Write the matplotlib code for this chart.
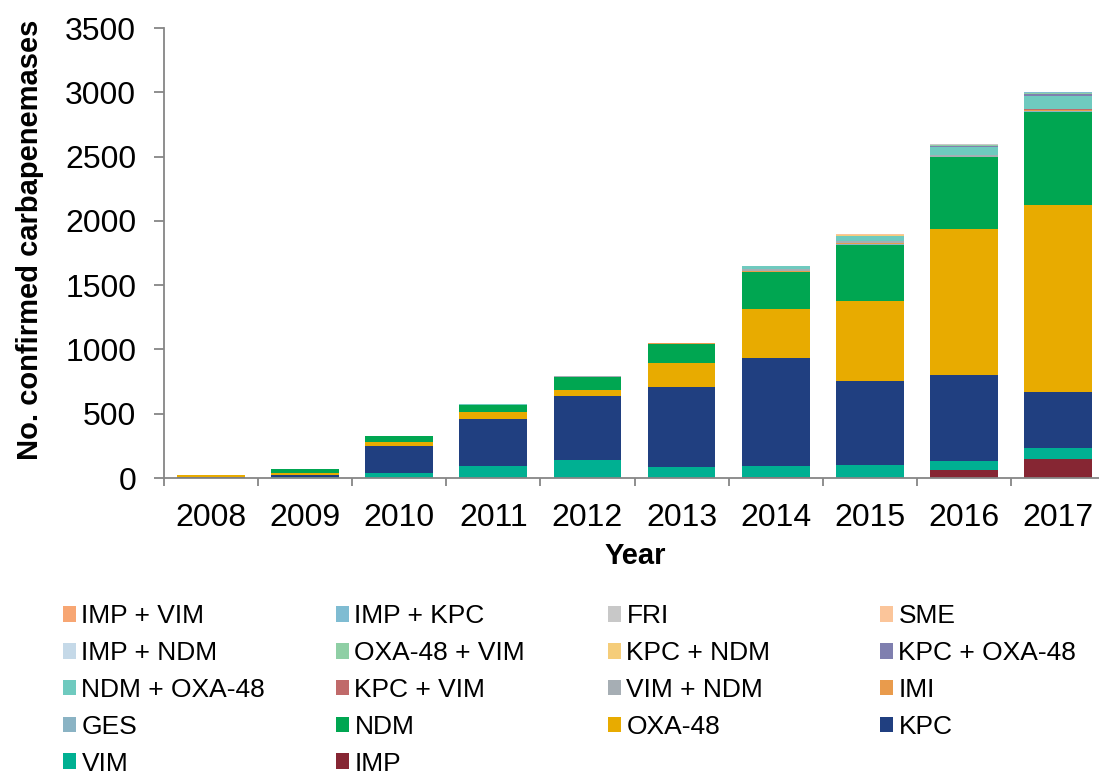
import matplotlib
matplotlib.use("Agg")
import matplotlib.pyplot as plt
from matplotlib.patches import Patch
import numpy as np

plt.rcParams['font.family'] = ['Liberation Sans', 'DejaVu Sans']

years = ['2008', '2009', '2010', '2011', '2012', '2013', '2014', '2015', '2016', '2017']

# stacked bottom -> top
IMP       = [0, 0, 0, 0, 0, 0, 5, 0, 63, 149]
VIM       = [2, 5, 36, 90, 138, 89, 87, 98, 66, 81]
KPC       = [4, 15, 215, 370, 496, 620, 839, 657, 676, 437]
OXA48     = [14, 16, 28, 52, 51, 183, 383, 621, 1130, 1454]
NDM       = [3, 31, 47, 52, 101, 153, 287, 437, 559, 729]
GES       = [0, 0, 0, 0, 0, 0, 3, 10, 3, 3]
IMI       = [0, 0, 0, 2, 2, 2, 3, 5, 3, 6]
VIM_NDM   = [0, 0, 3, 3, 2, 2, 15, 16, 10, 7]
KPC_VIM   = [0, 1, 1, 1, 1, 1, 1, 1, 1, 1]
NDM_OXA48 = [0, 0, 0, 2, 2, 3, 23, 39, 65, 103]
KPC_OXA48 = [0, 0, 0, 0, 0, 0, 0, 1, 6, 18]
KPC_NDM   = [0, 0, 0, 0, 0, 0, 1, 2, 2, 2]
OXA48_VIM = [0, 0, 0, 0, 0, 0, 0, 4, 3, 2]
IMP_NDM   = [0, 0, 0, 0, 0, 0, 0, 1, 3, 1]
SME       = [0, 0, 0, 0, 0, 0, 1, 5, 3, 3]
FRI       = [0, 0, 0, 0, 0, 0, 0, 1, 5, 2]
IMP_KPC   = [0, 0, 0, 0, 0, 0, 0, 0, 1, 1]
IMP_VIM   = [0, 0, 0, 0, 0, 0, 0, 0, 1, 3]

series_names = ['IMP', 'VIM', 'KPC', 'OXA-48', 'NDM', 'GES', 'IMI', 'VIM + NDM', 'KPC + VIM',
                'NDM + OXA-48', 'KPC + OXA-48', 'KPC + NDM', 'OXA-48 + VIM', 'IMP + NDM',
                'SME', 'FRI', 'IMP + KPC', 'IMP + VIM']
series_values = [IMP, VIM, KPC, OXA48, NDM, GES, IMI, VIM_NDM, KPC_VIM, NDM_OXA48, KPC_OXA48,
                 KPC_NDM, OXA48_VIM, IMP_NDM, SME, FRI, IMP_KPC, IMP_VIM]
colors = {
    'IMP': '#862633', 'VIM': '#00b092', 'KPC': '#203f80', 'OXA-48': '#e8ab00', 'NDM': '#00a651',
    'GES': '#8ab3c4', 'IMI': '#e99b4c', 'VIM + NDM': '#a6aeb4', 'KPC + VIM': '#c06a6a',
    'NDM + OXA-48': '#6fcabf', 'KPC + OXA-48': '#7f7faf', 'KPC + NDM': '#f5cd7a',
    'OXA-48 + VIM': '#8fcfa5', 'IMP + NDM': '#c5d9e8', 'SME': '#fbc59a', 'FRI': '#c8c8c8',
    'IMP + KPC': '#7fbcd2', 'IMP + VIM': '#f7a673',
}

# legend layout (row-major as in reference)
legend_order = ['IMP + VIM', 'IMP + KPC', 'FRI', 'SME',
                'IMP + NDM', 'OXA-48 + VIM', 'KPC + NDM', 'KPC + OXA-48',
                'NDM + OXA-48', 'KPC + VIM', 'VIM + NDM', 'IMI',
                'GES', 'NDM', 'OXA-48', 'KPC',
                'VIM', 'IMP']

W, H = 1099, 783
fig = plt.figure(figsize=(W / 100, H / 100), dpi=100)
ax = fig.add_axes([164 / W, 1 - 478 / H, (1105 - 164) / W, (478 - 28) / H])

x = np.arange(len(years))
bottom = np.zeros(len(years))
for name, vals in zip(series_names, series_values):
    v = np.array(vals, dtype=float)
    ax.bar(x, v, width=0.72, bottom=bottom, color=colors[name], label=name, linewidth=0)
    bottom += v

axis_col = '#868686'
ax.set_xlim(-0.5, len(years) - 0.5)
ax.set_ylim(0, 3500)
ax.set_yticks(np.arange(0, 3501, 500))
ax.set_xticks(np.arange(-0.5, len(years), 1.0))
ax.set_xticklabels([])
ax.set_xticks(x, minor=True)
ax.set_xticklabels(years, minor=True)
ax.tick_params(axis='x', which='major', direction='out', length=6, width=1.3, color=axis_col)
ax.tick_params(axis='x', which='minor', length=0, pad=18, labelsize=23)
ax.tick_params(axis='y', direction='out', length=7, width=1.3, color=axis_col, pad=13, labelsize=23)
for s in ['top', 'right']:
    ax.spines[s].set_visible(False)
for s in ['left', 'bottom']:
    ax.spines[s].set_color(axis_col)
    ax.spines[s].set_linewidth(1.3)

ax.set_xlabel('Year', fontsize=21, fontweight='bold')
ax.xaxis.set_label_coords((635 - 164) / 941, (478 - 542) / 450)
ax.set_ylabel('No. confirmed carbapenemases', fontsize=21, fontweight='bold')
ax.yaxis.set_label_coords((44 - 164) / 941, (478 - 240) / 450)

col_x = [63, 336, 608, 880]
for c in range(4):
    names = legend_order[c::4]
    handles = [Patch(facecolor=colors[n], edgecolor='none') for n in names]
    fig.legend(handles, names, loc='upper left', bbox_to_anchor=(col_x[c] / W, 1 - 604 / H),
               frameon=False, fontsize=19, borderpad=0, borderaxespad=0,
               handlelength=0.5, handleheight=0.55, handletextpad=0.2, labelspacing=0.49)

fig.savefig('out.png', dpi=100)
